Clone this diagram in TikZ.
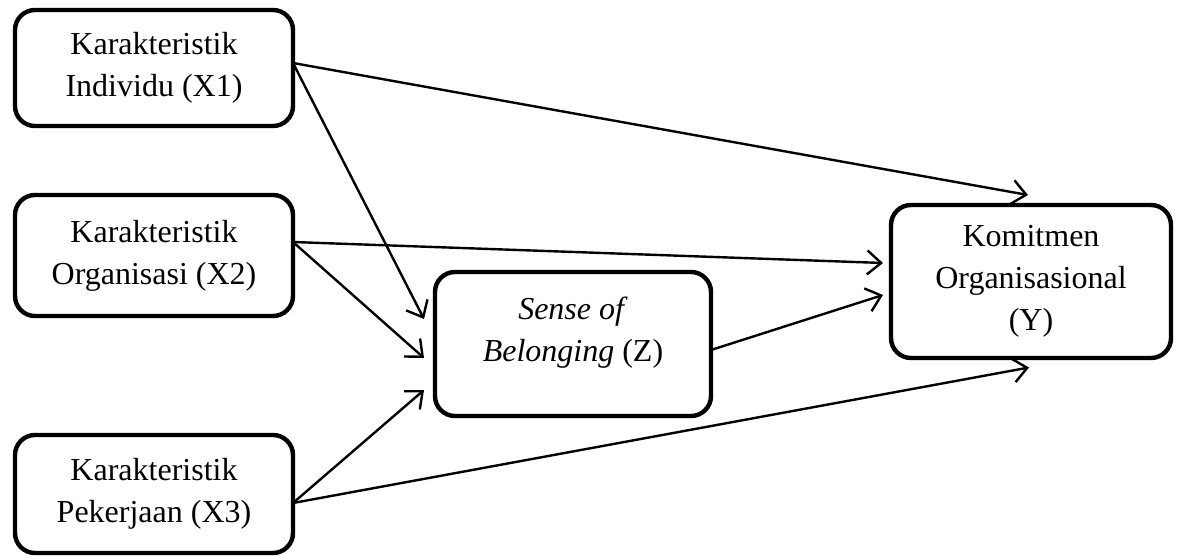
\documentclass[tikz,border=0pt]{standalone}
\usepackage{fontspec}
\setmainfont{Liberation Serif}
\usetikzlibrary{arrows.meta}
\begin{document}
\begin{tikzpicture}[x=0.5pt,y=-0.5pt,
  box/.style={draw, line width=2.2pt, rounded corners=10pt, outer sep=0pt,
    align=center, font=\fontsize{16pt}{21pt}\selectfont, inner sep=0pt},
  link/.style={line width=1.2pt, -{Straight Barb[length=7pt,width=12pt,line width=1.2pt]}}]
\useasboundingbox (0,0) rectangle (1179,557);
\node[box, minimum width=139pt, minimum height=58pt] (x1) at (154,68) {Karakteristik\\Individu (X1)};
\node[box, minimum width=139pt, minimum height=60.5pt] (x2) at (154,255.5) {Karakteristik\\Organisasi (X2)};
\node[box, minimum width=139pt, minimum height=59pt] (x3) at (154,494) {Karakteristik\\Pekerjaan (X3)};
\node[box, minimum width=138pt, minimum height=72pt] (z) at (573,344) {\textit{Sense of}\\\textit{Belonging} (Z)\\[-6pt]\mbox{}};
\node[box, minimum width=140pt, minimum height=76.5pt] (y) at (1031,281.5) {Komitmen\\Organisasional\\(Y)};
% connectors
\draw[link] ([yshift=2.5pt]x1.east) -- ([xshift=-1.5pt,yshift=5pt]y.north);
\draw[link] ([yshift=2.5pt]x1.east) -- ([xshift=-5.5pt,yshift=12.5pt]z.west);
\draw[link] ([yshift=6.75pt]x2.east) -- ([xshift=-4pt,yshift=9.25pt]y.west);
\draw[link] ([yshift=6.75pt]x2.east) -- ([xshift=-5.5pt,yshift=-7pt]z.west);
\draw[link] ([yshift=-4.5pt]x3.east) -- ([xshift=-5.5pt,yshift=-23pt]z.west);
\draw[link] ([yshift=-4.5pt]x3.east) -- ([xshift=-1pt,yshift=-4.75pt]y.south);
\draw[link] ([yshift=-3pt]z.east) -- ([xshift=-4pt,yshift=-6.75pt]y.west);
\end{tikzpicture}
\end{document}
